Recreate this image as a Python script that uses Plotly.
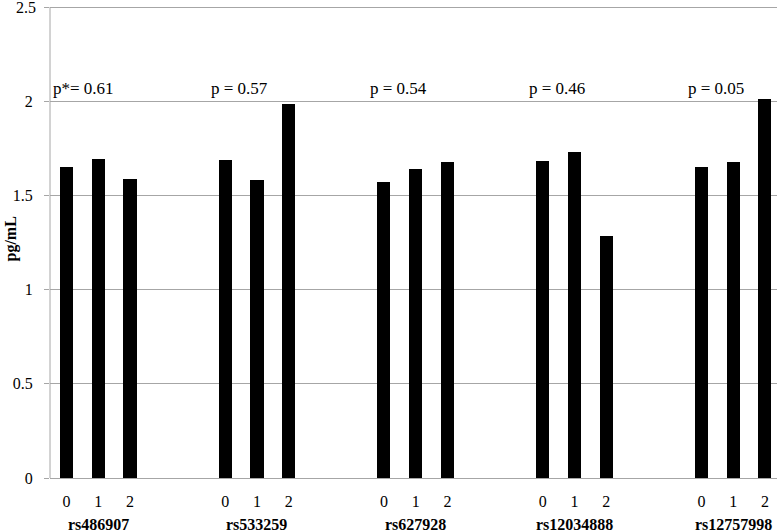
import plotly.graph_objects as go

snps = ["rs486907", "rs533259", "rs627928", "rs12034888", "rs12757998"]
genotypes = ["0", "1", "2"]
p_labels = ["p*= 0.61", "p = 0.57", "p = 0.54", "p = 0.46", "p = 0.05"]
values = [
    [1.65, 1.695, 1.587],
    [1.686, 1.58, 1.985],
    [1.569, 1.638, 1.677],
    [1.683, 1.73, 1.283],
    [1.651, 1.677, 2.01],
]
y_ticks = [0, 0.5, 1, 1.5, 2, 2.5]
y_ticktext = ["0", "0.5", "1", "1.5", "2", "2.5"]

SLOTS = 5  # 3 bars + 2 empty slots per group
xs, ys, tv, tt = [], [], [], []
for g, vals in enumerate(values):
    for i, v in enumerate(vals):
        x = g * SLOTS + i
        xs.append(x)
        ys.append(v)
        tv.append(x)
        tt.append(genotypes[i])

FONT = "Liberation Serif"
GRID = "#a6a6a6"

fig = go.Figure(go.Bar(x=xs, y=ys, width=0.41, marker=dict(color="black", line=dict(width=0))))

annotations = []
for g, (name, p) in enumerate(zip(snps, p_labels)):
    annotations.append(dict(x=g * SLOTS + 1, y=0, xref="x", yref="y", text="<b>" + name + "</b>",
                            showarrow=False, yshift=-46, yanchor="middle",
                            font=dict(family=FONT, size=16, color="black")))
    annotations.append(dict(x=g * SLOTS - 0.5, y=2.07, xref="x", yref="y", text=p,
                            showarrow=False, xanchor="left", yanchor="middle",
                            font=dict(family=FONT, size=17, color="black")))
annotations.append(dict(x=0, y=0.5, xref="paper", yref="paper", text="<b>pg/mL</b>",
                        textangle=-90, showarrow=False, xshift=-40, xanchor="center",
                        yanchor="middle",
                        font=dict(family=FONT, size=16, color="black")))
# top tick label (plotly hides it because it touches the page edge)
annotations.append(dict(x=0, y=y_ticks[-1], xref="paper", yref="y", text=y_ticktext[-1],
                        showarrow=False, xanchor="right", yanchor="middle", xshift=-12,
                        font=dict(family=FONT, size=16, color="black")))

fig.update_layout(
    width=777, height=532,
    margin=dict(l=50, r=0, t=1, b=54),
    paper_bgcolor="white", plot_bgcolor="white",
    showlegend=False,
    font=dict(family=FONT, size=16, color="black"),
    annotations=annotations,
    shapes=[dict(type="line", xref="paper", yref="y", x0=0, x1=0, y0=0, y1=y_ticks[-1],
                 line=dict(color=GRID, width=1))],
    xaxis=dict(range=[-0.52, 22.38], tickvals=tv, ticktext=tt, showgrid=False,
               zeroline=False, showline=False, ticks="", ticklabelstandoff=12,
               tickfont=dict(family=FONT, size=16, color="black")),
    yaxis=dict(range=[0, 2.532], tickmode="array", tickvals=y_ticks, ticktext=y_ticktext,
               showgrid=True, gridcolor=GRID, gridwidth=1,
               zeroline=True, zerolinecolor=GRID, zerolinewidth=1,
               showline=False,
               ticks="outside", ticklen=5, tickcolor=GRID, ticklabelstandoff=8,
               tickfont=dict(family=FONT, size=16, color="black")),
    bargap=0,
)

fig.write_html(
    "out.html",
    config={"displayModeBar": False},
    post_script="document.body.style.margin='0';document.body.style.overflow='hidden';",
)
